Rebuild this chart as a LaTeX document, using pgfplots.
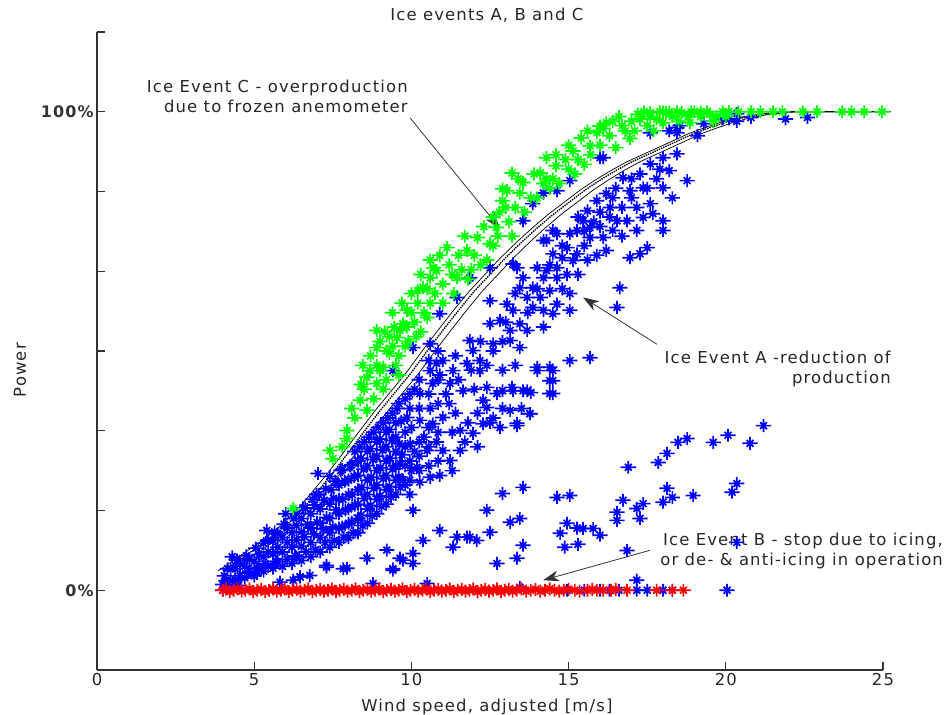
\documentclass[border=0pt]{standalone}
\usepackage{fontspec}
\setmainfont{DejaVu Sans}[LetterSpace=7]
\usepackage{pgfplots}
\usepackage{pgfplotstable}
\pgfplotsset{compat=1.18}
\usetikzlibrary{arrows.meta}
\definecolor{mblue}{RGB}{0,0,255}
\definecolor{mgreen}{RGB}{0,255,0}
\definecolor{mred}{RGB}{255,0,0}
\definecolor{axgray}{RGB}{50,50,50}

% matlab-like asterisk: plus with short diagonals
\pgfdeclareplotmark{mstar}{%
  \pgfpathmoveto{\pgfqpoint{-\pgfplotmarksize}{0pt}}%
  \pgfpathlineto{\pgfqpoint{\pgfplotmarksize}{0pt}}%
  \pgfpathmoveto{\pgfqpoint{0pt}{-0.85\pgfplotmarksize}}%
  \pgfpathlineto{\pgfqpoint{0pt}{0.85\pgfplotmarksize}}%
  \pgfpathmoveto{\pgfqpoint{-0.45\pgfplotmarksize}{-0.45\pgfplotmarksize}}%
  \pgfpathlineto{\pgfqpoint{0.45\pgfplotmarksize}{0.45\pgfplotmarksize}}%
  \pgfpathmoveto{\pgfqpoint{-0.45\pgfplotmarksize}{0.45\pgfplotmarksize}}%
  \pgfpathlineto{\pgfqpoint{0.45\pgfplotmarksize}{-0.45\pgfplotmarksize}}%
  \pgfusepathqstroke}

% reference power curve
\pgfplotstableread{
x y
4.0 0.040
4.5 0.062
5.0 0.085
5.5 0.108
6.0 0.135
6.5 0.167
7.0 0.205
7.5 0.245
8.0 0.288
8.5 0.332
9.0 0.375
9.5 0.415
10.0 0.455
10.5 0.500
11.0 0.543
11.5 0.585
12.0 0.625
12.5 0.660
13.0 0.695
13.5 0.727
14.0 0.757
14.5 0.785
15.0 0.810
15.5 0.835
16.0 0.857
16.5 0.877
17.0 0.895
17.5 0.910
18.0 0.925
18.5 0.940
19.0 0.955
19.5 0.967
20.0 0.978
20.5 0.987
21.0 0.993
21.5 0.997
22.0 1.000
25.0 1.000
}\powercurve

\begin{document}
\begin{tikzpicture}
\begin{axis}[
  name=ax,
  scale only axis,
  width=786bp, height=638bp,
  xmin=0, xmax=25,
  ymin=-0.16667, ymax=1.16667,
  axis lines*=left,
  axis line style={-, line width=1.2bp, axgray},
  tick style={line width=1.2bp, axgray},
  tick align=inside,
  major tick length=8bp,
  xtick={0,5,...,25},
  ytick={0,0.16667,0.33333,0.5,0.66667,0.83333,1,1.16667},
  yticklabels={0\%,,,,,,100\%,},
  /pgf/number format/assume math mode=true,
  font=\fontsize{16.5}{20}\selectfont,
  tick label style={font=\fontsize{16.5}{20}\selectfont, text=black!85},
  yticklabel style={font=\bfseries\fontsize{16}{20}\selectfont, text=black!80},
  title={Ice events A, B and C},
  title style={at={(axis description cs:0.496,1.009)}, anchor=base, text=black!85},
  xlabel={Wind speed, adjusted [m/s]},
  xlabel style={at={(axis description cs:0.496,-0.0658)}, anchor=base, text=black!85},
  ylabel={Power},
  ylabel style={at={(axis description cs:-0.098,0.47)}, anchor=center, text=black!85},
  every axis plot/.append style={only marks, mark=mstar, mark size=7.6bp, line width=1.7bp},
  clip=false,
]
% Event A and normal operation (blue)
\addplot[color=mblue] coordinates {
(4.0,0.0) (4.0,0.012) (4.05,0.03) (4.1,0.02) (4.15,0.045) (4.2,0.006) (4.3,0.07)
(4.4,0.022) (4.4,0.045) (4.45,0.063) (4.5,0.01)
(4.7,0.026) (4.7,0.05) (4.75,0.072) (4.8,0.036)
(5.0,0.03) (5.0,0.06) (5.05,0.088) (5.1,0.046) (5.09,0.035)
(5.3,0.04) (5.3,0.07) (5.3,0.098) (5.35,0.055) (5.4,0.125)
(5.6,0.046) (5.6,0.076) (5.6,0.104) (5.65,0.122) (5.7,0.06)
(5.9,0.05) (5.9,0.08) (5.9,0.11) (5.95,0.138) (5.82,0.017) (6.0,0.16)
(6.2,0.056) (6.2,0.09) (6.2,0.12) (6.25,0.15) (6.3,0.072) (6.24,0.021)
(6.5,0.062) (6.5,0.092) (6.5,0.122) (6.5,0.15) (6.55,0.172) (6.46,0.028)
(6.8,0.07) (6.8,0.1) (6.8,0.13) (6.8,0.16) (6.85,0.19) (6.77,0.031)
(7.1,0.08) (7.1,0.11) (7.1,0.14) (7.1,0.17) (7.05,0.2) (7.03,0.244) (7.3,0.048)
(7.4,0.09) (7.4,0.12) (7.4,0.15) (7.4,0.18) (7.45,0.21) (7.4,0.238)
(7.7,0.1) (7.7,0.13) (7.7,0.16) (7.7,0.19) (7.7,0.22) (7.75,0.25) (7.83,0.045)
(8.0,0.11) (8.0,0.14) (8.0,0.17) (8.0,0.2) (8.0,0.23) (8.05,0.26) (7.95,0.046)
(8.3,0.12) (8.3,0.15) (8.3,0.18) (8.3,0.21) (8.3,0.24) (8.3,0.27) (8.35,0.3)
(8.6,0.14) (8.6,0.17) (8.6,0.2) (8.6,0.23) (8.6,0.26) (8.6,0.29) (8.65,0.32) (8.59,0.067) (8.78,0.014)
(8.9,0.16) (8.9,0.19) (8.9,0.22) (8.9,0.25) (8.9,0.28) (8.9,0.31) (8.95,0.34)
(9.2,0.18) (9.2,0.21) (9.2,0.24) (9.2,0.27) (9.2,0.3) (9.2,0.33) (9.25,0.36) (9.22,0.084) (9.41,0.042)
(9.5,0.2) (9.5,0.23) (9.5,0.26) (9.5,0.29) (9.5,0.32) (9.5,0.35) (9.55,0.38) (9.64,0.067) (9.73,0.063)
(9.8,0.22) (9.8,0.26) (9.8,0.3) (9.8,0.33) (9.86,0.361) (9.8,0.4) (9.73,0.23) (9.41,0.459)
(10.05,0.167) (10.05,0.077) (10.05,0.056) (10.0,0.25) (10.1,0.29) (10.0,0.34) (10.1,0.42) (10.05,0.507)
(4.25,0.02) (4.25,0.045) (4.55,0.03) (4.55,0.055) (4.85,0.04) (4.85,0.065) (5.15,0.045) (5.15,0.075)
(5.45,0.05) (5.45,0.08) (5.45,0.105) (5.75,0.06) (5.75,0.09) (5.75,0.118)
(6.05,0.065) (6.05,0.1) (6.05,0.13) (6.35,0.07) (6.35,0.105) (6.35,0.135) (6.35,0.16)
(6.65,0.08) (6.6,0.112) (6.7,0.138) (6.62,0.172)
(6.95,0.085) (6.9,0.118) (7.0,0.142) (6.92,0.178) (6.98,0.2)
(7.25,0.1) (7.2,0.128) (7.3,0.152) (7.22,0.188) (7.28,0.212)
(7.55,0.104) (7.5,0.132) (7.6,0.168) (7.52,0.192) (7.58,0.228)
(7.85,0.11) (7.8,0.132) (7.9,0.168) (7.82,0.19) (7.88,0.228) (7.8,0.252)
(8.15,0.12) (8.1,0.142) (8.2,0.178) (8.12,0.2) (8.18,0.238) (8.1,0.262) (8.2,0.29)
(8.45,0.135) (8.4,0.157) (8.5,0.192) (8.42,0.215) (8.48,0.253) (8.4,0.276) (8.5,0.31)
(8.75,0.155) (8.7,0.177) (8.8,0.213) (8.72,0.236) (8.78,0.273) (8.7,0.296) (8.8,0.33)
(9.05,0.175) (9.0,0.197) (9.1,0.233) (9.02,0.256) (9.08,0.293) (9.0,0.316) (9.1,0.35)
(9.35,0.195) (9.3,0.217) (9.4,0.253) (9.32,0.276) (9.38,0.313) (9.3,0.336) (9.4,0.37)
(9.65,0.215) (9.6,0.237) (9.7,0.283) (9.62,0.306) (9.68,0.353) (9.6,0.39)
(9.95,0.2) (9.95,0.23) (9.95,0.27) (9.95,0.38) (9.95,0.41)
(10.25,0.25) (10.25,0.28) (10.25,0.31) (10.25,0.38) (10.25,0.44)
(10.55,0.26) (10.55,0.3) (10.55,0.34) (10.55,0.41) (10.55,0.48)
(10.85,0.27) (10.85,0.33) (10.85,0.39) (10.85,0.44) (10.85,0.5)
(10.27,0.355) (10.68,0.348) (11.0,0.361) (9.96,0.307) (10.5,0.292) (11.0,0.292) (11.55,0.292)
(11.23,0.271) (10.18,0.257) (10.6,0.236) (10.27,0.226) (10.9,0.24) (11.55,0.334) (11.96,0.328)
(12.28,0.348) (12.82,0.34) (13.36,0.344) (13.77,0.369) (13.14,0.376) (12.4,0.382) (9.64,0.265)
(10.4,0.32) (10.8,0.31) (11.3,0.33) (10.6,0.38) (11.2,0.39)
(11.8,0.35) (12.1,0.37) (12.6,0.36) (12.9,0.38) (13.5,0.38) (11.4,0.37) (11.7,0.31) (12.1,0.3) (11.3,0.25)
(11.5,0.44) (11.9,0.46) (12.0,0.42) (11.4,0.49) (12.4,0.47) (12.9,0.46) (11.1,0.41) (10.9,0.45)
(12.6,0.5) (12.2,0.52) (12.9,0.52) (13.3,0.47)
(18.0,0.904) (18.45,0.912) (18.77,0.856) (17.6,0.891) (17.27,0.87) (16.73,0.862) (16.95,0.835)
(17.37,0.841) (18.0,0.841) (18.2,0.877) (16.2,0.829) (15.9,0.814) (16.32,0.8) (17.17,0.8)
(17.6,0.808) (16.86,0.772) (17.37,0.779) (17.68,0.787) (18.0,0.772) (18.0,0.752) (17.17,0.752)
(16.54,0.772) (15.6,0.793) (15.46,0.772) (15.68,0.758) (15.27,0.752) (15.68,0.737) (16.1,0.737)
(16.4,0.752) (15.04,0.745) (14.63,0.745) (14.3,0.731) (14.95,0.716) (15.27,0.703) (15.14,0.689)
(14.8,0.695) (14.5,0.703) (14.63,0.674) (14.3,0.668) (14.0,0.674) (14.2,0.653) (14.63,0.653)
(14.95,0.66) (13.55,0.653) (13.45,0.632) (13.86,0.632) (13.68,0.612) (14.1,0.612) (14.4,0.626)
(14.63,0.598) (14.2,0.585) (13.86,0.591) (14.5,0.578) (15.04,0.585) (15.04,0.62) (13.36,0.674)
(13.23,0.682) (12.5,0.674) (12.5,0.605) (13.04,0.598) (13.23,0.585) (12.82,0.564) (13.45,0.557)
(13.68,0.543) (12.5,0.557) (13.14,0.543) (13.45,0.507) (13.14,0.522) (12.6,0.515) (11.86,0.522)
(11.96,0.501) (12.18,0.48) (11.77,0.474) (11.32,0.459) (11.0,0.48) (10.6,0.459) (10.68,0.432)
(11.23,0.432) (11.64,0.417) (12.18,0.459) (12.4,0.424) (12.72,0.411) (13.23,0.417) (13.68,0.417)
(14.0,0.459) (14.5,0.459) (14.4,0.438) (14.5,0.411) (15.04,0.48) (15.68,0.486) (10.27,0.411)
(10.8,0.474) (16.54,0.591) (16.63,0.632) (16.95,0.695) (17.27,0.703) (17.5,0.716) (14.2,0.731)
(14.5,0.752) (16.1,0.904) (15.04,0.856) (14.63,0.835) (13.86,0.808) (13.55,0.772)
(15.3,0.78) (15.8,0.77) (16.0,0.79) (16.3,0.78) (16.7,0.8) (17.0,0.82) (17.5,0.84) (17.8,0.86)
(16.5,0.84) (16.0,0.76) (15.5,0.72) (15.9,0.7) (16.2,0.71) (16.7,0.74) (14.8,0.63) (14.4,0.68)
(15.3,0.66) (15.6,0.69) (14.0,0.63) (13.7,0.58) (14.2,0.55) (13.3,0.62) (13.0,0.56) (17.0,0.86)
(17.9,0.88) (16.4,0.82) (14.8,0.72) (15.5,0.75) (18.3,0.82)
(11.86,0.653) (11.45,0.612) (10.9,0.578) (10.6,0.515)
(16.0,0.904) (14.2,0.83) (18.45,0.956) (19.1,0.95) (18.54,0.971) (20.1,0.985) (20.35,0.98)
(20.35,0.996) (20.8,0.988) (21.9,0.985) (22.6,0.988) (19.9,0.985) (19.3,0.975) (18.45,0.967)
(18.2,0.96) (17.6,0.956)
(12.28,0.397) (13.77,0.369) (13.36,0.349) (12.5,0.35) (14.4,0.411) (14.5,0.438)
(14.4,0.466) (14.0,0.466) (12.9,0.417) (13.55,0.417) (13.8,0.413) (13.2,0.424)
(10.9,0.125) (10.37,0.104) (11.45,0.111) (11.86,0.111) (12.08,0.104) (11.32,0.09) (12.5,0.121)
(12.4,0.167) (12.9,0.202) (13.55,0.215) (13.14,0.142) (13.45,0.15) (13.55,0.094) (13.36,0.067)
(12.72,0.056) (14.63,0.194) (15.04,0.198) (14.73,0.119) (14.95,0.14) (15.27,0.13) (15.46,0.129)
(15.78,0.129) (16.0,0.115) (14.88,0.09) (15.3,0.096) (16.86,0.083) (16.9,0.257) (16.54,0.163)
(16.54,0.146) (16.73,0.188) (17.17,0.171) (17.27,0.15) (17.37,0.181) (18.0,0.184) (18.13,0.213)
(18.3,0.194) (18.96,0.198) (17.85,0.267) (18.13,0.286) (18.48,0.309) (18.77,0.317) (19.6,0.309)
(20.07,0.324) (20.77,0.307) (21.2,0.344) (20.2,0.205) (20.35,0.223) (20.35,0.1) (20.04,0.0)
(17.17,0.021) (11.77,0.111)
(7.3,0.052) (9.41,0.045) (10.5,0.014) (6.46,0.028)
(13.45,0.006) (14.95,0) (15.5,0) (16.0,0) (16.3,0) (16.6,0) (17.17,0) (17.5,0) (18.0,0) (18.3,0)
};
% Event C (green)
\addplot[color=mgreen] coordinates {
(6.24,0.171) (7.41,0.292) (7.5,0.275) (7.95,0.334) (7.95,0.317) (7.8,0.30)
(8.37,0.397) (8.59,0.376) (8.5,0.42) (8.68,0.459) (8.58,0.445) (8.4,0.43)
(8.9,0.432) (8.9,0.47) (8.9,0.507) (8.9,0.543) (9.0,0.459)
(9.1,0.466) (9.22,0.50) (9.3,0.495) (9.2,0.44) (9.3,0.53)
(9.54,0.528) (9.64,0.543) (9.73,0.557) (9.5,0.47) (9.6,0.49)
(9.86,0.585) (9.9,0.52) (9.85,0.55)
(10.2,0.6) (10.2,0.626) (10.37,0.633) (10.1,0.56) (10.3,0.54) (10.4,0.58)
(10.6,0.653) (10.7,0.674) (10.8,0.668) (10.6,0.60) (10.75,0.62)
(11.13,0.716) (11.45,0.653) (11.0,0.64) (11.2,0.68) (11.35,0.62) (11.5,0.70)
(11.77,0.71) (12.1,0.737) (11.9,0.67) (12.0,0.70) (11.8,0.65)
(12.5,0.724) (12.7,0.758) (12.9,0.814) (12.9,0.839) (12.4,0.69) (12.6,0.72) (12.8,0.79) (12.75,0.74)
(13.04,0.835) (13.2,0.872) (13.55,0.852) (13.1,0.77) (13.3,0.80) (13.45,0.83) (13.6,0.79) (13.2,0.74)
(14.1,0.872) (14.3,0.904) (14.6,0.887) (14.0,0.82) (14.2,0.85) (14.4,0.84) (14.5,0.86) (14.7,0.85)
(15.14,0.918) (15.68,0.929) (15.9,0.956) (15.0,0.88) (15.3,0.90) (15.5,0.89) (15.7,0.91) (15.2,0.87) (15.4,0.945)
(16.2,0.977) (16.7,0.971) (16.95,0.944) (16.0,0.93) (16.3,0.95) (16.5,0.925) (16.6,0.99) (16.8,0.96) (16.1,0.965)
(17.27,0.985) (17.6,0.998) (17.5,0.971) (17.1,0.96) (17.4,1.0) (17.8,0.985) (17.9,1.0) (17.2,0.995) (17.7,0.96)
(18.1,0.998) (18.6,0.998) (18.0,0.977) (18.3,0.99) (18.45,1.0) (18.8,0.99) (18.2,1.0) (18.9,1.0)
(19.2,0.99) (19.7,0.99) (18.86,0.977) (19.0,1.0) (19.4,1.0) (19.5,0.995) (19.9,1.0) (20.1,1.0) (20.4,1.0)
(21.1,1.0) (21.8,1.0) (22.45,1.0) (22.9,1.0) (23.7,1.0) (24.0,1.0) (24.4,1.0) (24.97,1.0) (20.8,1.0) (21.5,1.0)
(8.7,0.49) (9.0,0.52) (9.4,0.51) (9.45,0.55) (9.8,0.51) (10.0,0.58) (10.5,0.63) (10.5,0.57)
(8.8,0.40) (9.1,0.42) (9.15,0.54) (9.4,0.58) (9.7,0.6) (10.0,0.62) (10.3,0.66) (10.6,0.69)
(10.9,0.7) (11.0,0.6) (11.3,0.66) (11.6,0.67) (11.7,0.74) (12.2,0.68) (12.3,0.76) (12.6,0.78)
(13.0,0.8) (13.4,0.86) (13.8,0.82) (13.9,0.87) (14.3,0.86) (14.6,0.91) (14.9,0.9) (15.0,0.93)
(15.6,0.96) (16.0,0.97) (16.4,0.98) (17.0,0.98) (17.6,0.99) (18.0,1.0) (18.5,0.98) (19.2,1.0)
(19.6,0.98) (20.0,0.99) (8.2,0.36) (8.1,0.38) (8.45,0.47) (9.6,0.45) (10.15,0.53)
};
% Event B (red)
\addplot[color=mred] coordinates {
(4.00,0) (4.10,0.003) (4.22,-0.003) (4.35,0) (4.47,0.003) (4.6,-0.002) (4.72,0) (4.85,0.003)
(4.97,-0.003) (5.1,0) (5.22,0.002) (5.35,-0.003) (5.47,0) (5.6,0.003) (5.72,-0.002) (5.85,0)
(5.97,0.003) (6.1,-0.003) (6.22,0) (6.35,0.002) (6.47,-0.002) (6.6,0) (6.72,0.003) (6.85,-0.003)
(6.97,0) (7.1,0.002) (7.22,-0.002) (7.35,0) (7.47,0.003) (7.6,-0.003) (7.72,0) (7.85,0.002)
(7.97,-0.002) (8.1,0) (8.22,0.003) (8.35,-0.003) (8.47,0) (8.6,0.002) (8.72,-0.002) (8.85,0)
(8.97,0.003) (9.1,-0.003) (9.22,0) (9.35,0.002) (9.47,-0.002) (9.6,0) (9.72,0.003) (9.85,-0.003)
(9.97,0) (10.1,0.002) (10.22,-0.002) (10.35,0) (10.47,0.003) (10.6,-0.003) (10.72,0) (10.85,0.002)
(10.97,-0.002) (11.1,0) (11.22,0.003) (11.35,-0.003) (11.47,0) (11.6,0.002) (11.72,-0.002) (11.85,0)
(11.97,0.003) (12.1,-0.003) (12.22,0) (12.35,0.002) (12.47,-0.002) (12.6,0) (12.72,0.003) (12.85,-0.003)
(12.97,0) (13.1,0.002) (13.22,-0.002) (13.35,0) (13.5,0.003) (13.65,-0.002) (13.8,0) (13.95,0.002)
(14.1,-0.002) (14.25,0) (14.4,0.003) (14.55,0) (14.7,-0.002) (14.85,0) (15.0,0.002) (15.2,0)
(15.35,-0.002) (15.6,0) (15.75,0.002) (15.9,0) (16.1,0) (16.35,0) (16.5,0.002) (16.86,0)
(17.8,0) (18.3,0) (18.65,0)
};
% power curve with bounds
\addplot[no marks, sharp plot, black, line width=0.7bp, xshift=-5bp] table {\powercurve};
\addplot[no marks, sharp plot, black, line width=1.4bp, densely dotted] table {\powercurve};
\addplot[no marks, sharp plot, black, line width=0.7bp, xshift=8bp] table {\powercurve};
% annotations
\node[anchor=north east, align=right, inner sep=0pt, text=black!85] at (axis cs:9.89,1.067)
  {Ice Event C - overproduction\\due to frozen anemometer};
\draw[black!80, line width=0.8bp, -{Stealth[length=16bp,width=11bp,inset=5bp]}]
  (axis cs:9.96,0.987) -- (axis cs:12.82,0.756);
\node[anchor=north east, align=right, inner sep=0pt, text=black!85] at (axis cs:25.25,0.501)
  {Ice Event A -reduction of\\production};
\draw[black!80, line width=0.8bp, -{Stealth[length=16bp,width=11bp,inset=5bp]}]
  (axis cs:17.81,0.514) -- (axis cs:15.46,0.612);
\node[anchor=north east, align=right, inner sep=0pt, text=black!85] at (axis cs:26.91,0.119)
  {Ice Event B - stop due to icing,\\or de- \& anti-icing in operation};
\draw[black!80, line width=0.8bp, -{Stealth[length=16bp,width=11bp,inset=5bp]}]
  (axis cs:17.59,0.0835) -- (axis cs:14.19,0.021);
\end{axis}
\pgfresetboundingbox
\path[use as bounding box] (ax.south west) ++(-97bp,-45bp) rectangle ++(946bp,715bp);
\end{tikzpicture}
\end{document}
